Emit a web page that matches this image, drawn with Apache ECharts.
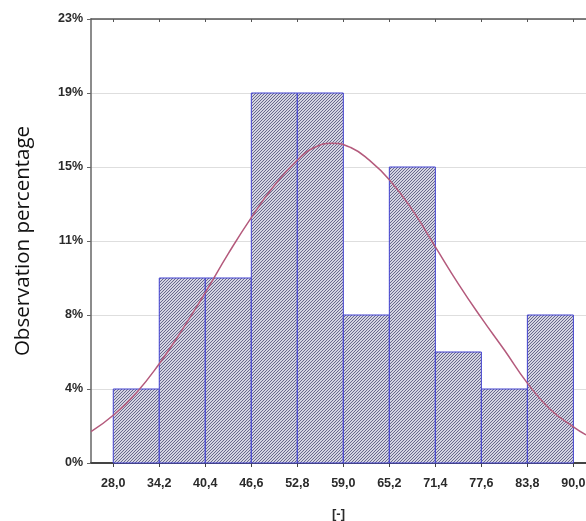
<!DOCTYPE html>
<html>
<head>
<meta charset="utf-8">
<script src="https://cdn.jsdelivr.net/npm/echarts@6/dist/echarts.min.js"></script>
<style>html,body{margin:0;padding:0;background:#fff}#c{width:586px;height:521px}</style>
</head>
<body>
<div id="c"></div>
<script>
// Bin edges (x axis tick labels)
const binEdges = [28.0, 34.2, 40.4, 46.6, 52.8, 59.0, 65.2, 71.4, 77.6, 83.8, 90.0];
// Observation percentage per bin
const binPercent = [3.8, 9.5, 9.5, 19.0, 19.0, 7.6, 15.2, 5.7, 3.8, 7.6];
// Fitted normal curve: [x, percent]
const curvePoints = [
  [25.0, 1.61], [28.0, 2.45], [31.1, 3.6], [34.2, 5.1], [37.3, 6.85],
  [40.4, 8.75], [43.5, 10.75], [46.6, 12.6], [49.7, 14.25], [52.8, 15.55],
  [55.1, 16.2], [57.5, 16.42], [60.0, 16.2], [62.5, 15.55], [65.2, 14.55],
  [68.3, 13.0], [71.4, 11.1], [74.5, 9.2], [77.6, 7.45], [80.7, 5.8],
  [83.8, 4.1], [86.9, 2.75], [90.0, 1.86], [91.7, 1.44]
];
// Y tick step and top (labels are rounded percentages)
const yMax = 22.8, yStep = 3.8;

const histData = binPercent.map((v, i) => [binEdges[i], binEdges[i + 1], v]);

// hatch pattern
const pc = document.createElement('canvas');
pc.width = 6; pc.height = 6;
const pctx = pc.getContext('2d');
pctx.fillStyle = '#d4d4e2';
pctx.fillRect(0, 0, 6, 6);
pctx.fillStyle = '#68688c';
for (let i = 0; i < 6; i++) for (let j = 0; j < 6; j++) {
  if ((i + j) % 3 === 0) pctx.fillRect(i, j, 1, 1);
}

const chart = echarts.init(document.getElementById('c'), null, { renderer: 'canvas' });
const fmtX = v => v.toFixed(1).replace('.', ',');
const labelFont = { fontFamily: 'Liberation Sans Narrow, Liberation Sans, Arial', fontWeight: 'bold', fontSize: 12.5, color: '#2a2a2a' };

chart.setOption({
  animation: false,
  grid: { left: 91, right: 0, top: 19, bottom: 58, containLabel: false, outerBoundsMode: 'none' },
  xAxis: [{
    type: 'value', min: 25.0, max: 91.7, position: 'bottom',
    name: '[-]', nameLocation: 'middle', nameGap: 45,
    nameTextStyle: Object.assign({}, labelFont, { fontSize: 13 }),
    axisLine: { show: true, lineStyle: { color: '#444', width: 2 } },
    axisTick: { show: true, length: 4, lineStyle: { color: '#444' }, customValues: binEdges },
    axisLabel: Object.assign({ margin: 14, customValues: binEdges, formatter: fmtX }, labelFont),
    splitLine: { show: false }
  }, {
    type: 'value', min: 25.0, max: 91.7, position: 'top',
    axisLine: { show: true, onZero: false, lineStyle: { color: '#555', width: 1.5 } },
    axisTick: { show: true, inside: true, length: 3, lineStyle: { color: '#555' }, customValues: binEdges },
    axisLabel: { show: false },
    splitLine: { show: false }
  }],
  yAxis: {
    type: 'value', min: 0, max: yMax, interval: yStep,
    name: 'Observation percentage', nameLocation: 'middle', nameRotate: 90, nameGap: 57,
    nameTextStyle: { fontFamily: 'Open Sans, Noto Sans, sans-serif', fontSize: 20.5, color: '#111' },
    axisLine: { show: true, lineStyle: { color: '#666', width: 1.5 } },
    axisTick: { show: true, length: 4, lineStyle: { color: '#666' } },
    axisLabel: Object.assign({ margin: 8, formatter: v => Math.round(v) + '%' }, labelFont),
    splitLine: { show: true, lineStyle: { color: '#dedede', width: 1 } }
  },
  series: [{
    type: 'custom',
    xAxisIndex: 0,
    data: histData,
    z: 2,
    renderItem: function (params, api) {
      const p0 = api.coord([api.value(0), api.value(2)]);
      const p1 = api.coord([api.value(1), 0]);
      return {
        type: 'rect',
        shape: { x: p0[0], y: p0[1], width: p1[0] - p0[0], height: p1[1] - p0[1] },
        style: { fill: { image: pc, repeat: 'repeat' }, stroke: '#4040d0', lineWidth: 1 }
      };
    }
  }, {
    type: 'line',
    xAxisIndex: 0,
    data: curvePoints,
    smooth: 0.5,
    showSymbol: false,
    z: 5,
    lineStyle: { color: '#b45a7c', width: 1.5 }
  }]
});
</script>
</body>
</html>
